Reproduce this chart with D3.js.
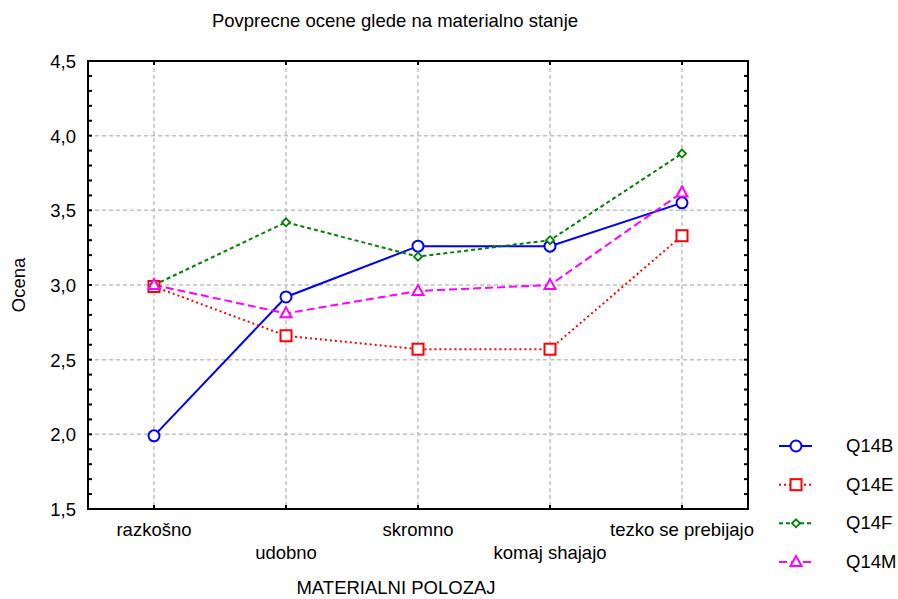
<!DOCTYPE html>
<html><head><meta charset="utf-8">
<script src="https://cdn.jsdelivr.net/npm/d3@7"></script>
<style>body{margin:0;background:#fff}text{font-family:"Liberation Sans",Arial,sans-serif;fill:#000}</style>
</head><body><svg id="c" width="898" height="599"></svg>
<script>
const categories = ["razkošno","udobno","skromno","komaj shajajo","tezko se prebijajo"];
const q14b = [1.99, 2.92, 3.26, 3.26, 3.55];
const q14e = [2.99, 2.66, 2.57, 2.57, 3.33];
const q14f = [3.00, 3.42, 3.19, 3.30, 3.88];
const q14m = [3.00, 2.81, 2.96, 3.00, 3.62];
const yTicks = [1.5, 2.0, 2.5, 3.0, 3.5, 4.0, 4.5];
const seriesNames = ["Q14B","Q14E","Q14F","Q14M"];

const series = [
  {name:"Q14B", values:q14b, color:"#0000ff", dash:null, sym:"circle", w:2},
  {name:"Q14E", values:q14e, color:"#ff0000", dash:"2,3", sym:"square", w:2},
  {name:"Q14F", values:q14f, color:"#008000", dash:"4,3", sym:"diamond", w:2},
  {name:"Q14M", values:q14m, color:"#ff00ff", dash:"8,4", sym:"triangle", w:2}
];

const FS = "18.5px";
const svg = d3.select("#c");
const L=88, R=748, T=61, B=509;
const x = d3.scaleBand().domain(categories).range([L,R]);
const xc = d => x(d) + x.bandwidth()/2;
const y = d3.scaleLinear().domain([1.5,4.5]).range([B,T]);

// grid
const g = svg.append("g");
g.selectAll(".hg").data(yTicks.slice(1,-1)).join("line")
  .attr("x1",L).attr("x2",R).attr("y1",d=>y(d)).attr("y2",d=>y(d))
  .attr("stroke","#c0c0c0").attr("stroke-width",1.5).attr("stroke-dasharray","4,3");
g.selectAll(".vg").data(categories).join("line")
  .attr("x1",d=>xc(d)).attr("x2",d=>xc(d)).attr("y1",T).attr("y2",B)
  .attr("stroke","#c0c0c0").attr("stroke-width",1.5).attr("stroke-dasharray","4,3");

// axes
const minor = d3.range(15,46).map(v=>v/10);
const left = d3.axisLeft(y).tickValues(yTicks).tickFormat(d=>d3.format(".1f")(d).replace(".",",")).tickSize(0).tickPadding(12);
const la = svg.append("g").attr("transform",`translate(${L},0)`).call(left);
la.select(".domain").remove();
la.selectAll("text").style("font-size",FS).attr("dy","0.35em");
svg.append("g").selectAll("line").data(minor).join("line")
  .attr("x1",L).attr("x2",L+4).attr("y1",d=>y(d)).attr("y2",d=>y(d)).attr("stroke","#000").attr("stroke-width",2);
svg.append("g").selectAll("line").data(minor).join("line")
  .attr("x1",R-4).attr("x2",R).attr("y1",d=>y(d)).attr("y2",d=>y(d)).attr("stroke","#000").attr("stroke-width",2);
svg.append("g").selectAll("line").data(categories).join("line")
  .attr("x1",d=>xc(d)).attr("x2",d=>xc(d)).attr("y1",B).attr("y2",B-4).attr("stroke","#000").attr("stroke-width",2);
svg.append("g").selectAll("line").data(categories).join("line")
  .attr("x1",d=>xc(d)).attr("x2",d=>xc(d)).attr("y1",T).attr("y2",T+4).attr("stroke","#000").attr("stroke-width",2);
svg.append("rect").attr("x",L).attr("y",T).attr("width",R-L).attr("height",B-T)
  .attr("fill","none").attr("stroke","#000").attr("stroke-width",2);

// x labels staggered
svg.append("g").selectAll("text").data(categories).join("text")
  .attr("x",d=>xc(d)).attr("y",(d,i)=> i%2===0 ? 536 : 559)
  .attr("text-anchor","middle").style("font-size",FS).text(d=>d);

// titles
svg.append("text").attr("x",395).attr("y",27).attr("text-anchor","middle").style("font-size",FS).text("Povprecne ocene glede na materialno stanje");
svg.append("text").attr("x",396).attr("y",594).attr("text-anchor","middle").style("font-size",FS).text("MATERIALNI POLOZAJ");
svg.append("text").attr("transform","translate(25,285) rotate(-90)").attr("text-anchor","middle").style("font-size",FS).text("Ocena");

function marker(sel, s, cx, cy){
  if(s.sym==="circle") sel.append("circle").attr("cx",cx).attr("cy",cy).attr("r",5.5)
    .attr("fill","#fff").attr("stroke",s.color).attr("stroke-width",2);
  else if(s.sym==="square") sel.append("rect").attr("x",cx-5.5).attr("y",cy-5.5).attr("width",11).attr("height",11)
    .attr("fill","#fff").attr("stroke",s.color).attr("stroke-width",2);
  else if(s.sym==="diamond") sel.append("path").attr("d",`M${cx},${cy-4}L${cx+4},${cy}L${cx},${cy+4}L${cx-4},${cy}Z`)
    .attr("fill","#fff").attr("stroke",s.color).attr("stroke-width",1.8);
  else sel.append("path").attr("d",`M${cx},${cy-6}L${cx+5.5},${cy+4}L${cx-5.5},${cy+4}Z`)
    .attr("fill","#fff").attr("stroke",s.color).attr("stroke-width",2);
}

const line = d3.line().x((d,i)=>xc(categories[i])).y(d=>y(d));
series.forEach(s=>{
  svg.append("path").datum(s.values).attr("d",line).attr("fill","none")
    .attr("stroke",s.color).attr("stroke-width",s.w).attr("stroke-dasharray",s.dash);
});
series.forEach(s=>{
  const gm = svg.append("g");
  s.values.forEach((v,i)=>marker(gm,s,xc(categories[i]),y(v)));
});

// legend
const ly = d3.scalePoint().domain(seriesNames).range([446,562]);
series.forEach(s=>{
  const yy = ly(s.name);
  svg.append("line").attr("x1",779).attr("x2",812).attr("y1",yy).attr("y2",yy)
    .attr("stroke",s.color).attr("stroke-width",2).attr("stroke-dasharray",s.dash);
  marker(svg,s,796,yy);
  svg.append("text").attr("x",846).attr("y",yy+6).style("font-size",FS).text(s.name);
});
</script></body></html>
